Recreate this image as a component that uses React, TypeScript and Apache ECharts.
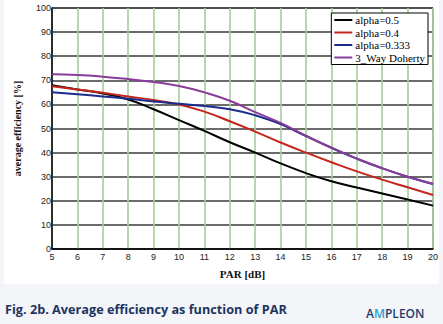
import React, { useEffect, useRef } from "react";
import * as echarts from "echarts";

const parValues = [5, 6, 7, 8, 9, 10, 11, 12, 13, 14, 15, 16, 17, 18, 19, 20];
const alpha05 = [68, 66.2, 64.5, 62, 58, 53.5, 49, 44.3, 40, 35.5, 31.5, 28.1, 25.5, 23, 20.5, 18];
const alpha04 = [67.5, 66.2, 64.8, 63.3, 61.8, 60, 57, 53, 48.7, 44.2, 40, 36, 32.2, 28.8, 25.6, 22.4];
const alpha0333 = [65, 64.2, 63.3, 62.3, 61.2, 60.3, 59.3, 58, 55.5, 51.8, 46.8, 42, 37.5, 33.5, 30, 27];
const doherty3 = [72.5, 72.2, 71.5, 70.5, 69.3, 67.6, 65, 61.5, 56.8, 52.3, 47, 42, 37.5, 33.5, 30, 27];
const seriesNames = ["alpha=0.5", "alpha=0.4", "alpha=0.333", "3_Way Doherty"];
const seriesColors = ["#000000", "#c4261c", "#1c2c8c", "#8a3c9a"];

export default function App() {
  const ref = useRef<HTMLDivElement>(null);
  useEffect(() => {
    if (!ref.current) return;
    const chart = echarts.init(ref.current, undefined, { renderer: "svg" });
    const datasets = [alpha05, alpha04, alpha0333, doherty3];
    chart.setOption({
      animation: false,
      backgroundColor: "#f3f5f8",
      graphic: [
        {
          type: "rect",
          shape: { x: 4, y: 0, width: 435, height: 284 },
          style: { fill: "#ffffff" },
          z: -10,
          silent: true,
        },
        {
          type: "text",
          x: 5,
          y: 302,
          style: {
            text: "Fig. 2b. Average efficiency as function of PAR",
            font: "bold 12.7px 'Open Sans'",
            fill: "#1d3461",
          },
        },
        {
          type: "text",
          x: 366,
          y: 306,
          style: {
            text: "{a|A}{m|M}{a|PLEON}",
            rich: {
              a: { fontFamily: "'Open Sans'", fontWeight: 600, fontSize: 12, lineHeight: 14, fill: "#1f3d6e" },
              m: { fontFamily: "'Open Sans'", fontWeight: 600, fontSize: 12, lineHeight: 14, fill: "#2b9fd6" },
            },
          },
        },
      ],
      grid: {
        left: 52,
        right: 10,
        top: 8,
        bottom: 75,
        show: true,
        borderColor: "#333",
        borderWidth: 1,
      },
      legend: {
        data: seriesNames,
        orient: "vertical",
        right: 15,
        top: 13,
        icon: "rect",
        itemWidth: 18,
        itemHeight: 2,
        itemGap: 0.5,
        padding: [1, 3, 1, 3],
        borderColor: "#000",
        borderWidth: 1,
        backgroundColor: "#fff",
        textStyle: {
          fontFamily: "'Liberation Serif'",
          fontSize: 11,
          color: "#000",
          lineHeight: 12,
          padding: [0, 0, 0, -2],
        },
      },
      xAxis: {
        type: "value",
        min: 5,
        max: 20,
        interval: 1,
        name: "PAR [dB]",
        nameLocation: "middle",
        nameGap: 19,
        nameTextStyle: {
          fontFamily: "'Liberation Serif'",
          fontSize: 11,
          fontWeight: "bold",
          color: "#111",
        },
        axisLine: { show: true, lineStyle: { color: "#000", width: 1.5 } },
        axisTick: { show: false },
        axisLabel: { fontFamily: "Arial, 'Liberation Sans'", fontSize: 9, color: "#222", margin: 3 },
        splitLine: { show: true, lineStyle: { color: "#a4cf9a", width: 1.6 } },
      },
      yAxis: {
        type: "value",
        min: 0,
        max: 100,
        interval: 10,
        name: "average efficiency [%]",
        nameLocation: "middle",
        nameGap: 30,
        nameTextStyle: {
          fontFamily: "'Liberation Serif'",
          fontSize: 10,
          fontWeight: "bold",
          color: "#111",
        },
        axisLine: { show: true, lineStyle: { color: "#000", width: 1.5 } },
        axisTick: { show: false },
        axisLabel: { fontFamily: "Arial, 'Liberation Sans'", fontSize: 9, color: "#222", margin: 1 },
        splitLine: { show: true, lineStyle: { color: "#3a3a3a", width: 1.5 } },
      },
      series: datasets.map((d, i) => ({
        name: seriesNames[i],
        type: "line",
        smooth: true,
        showSymbol: false,
        symbol: "none",
        data: parValues.map((x, j) => [x, d[j]]),
        lineStyle: { color: seriesColors[i], width: 2 },
        itemStyle: { color: seriesColors[i] },
        z: 3 + i,
      })),
    });
    return () => chart.dispose();
  }, []);
  return (
    <div
      ref={ref}
      style={{ position: "fixed", left: 0, top: 0, width: 443, height: 324 }}
    />
  );
}
